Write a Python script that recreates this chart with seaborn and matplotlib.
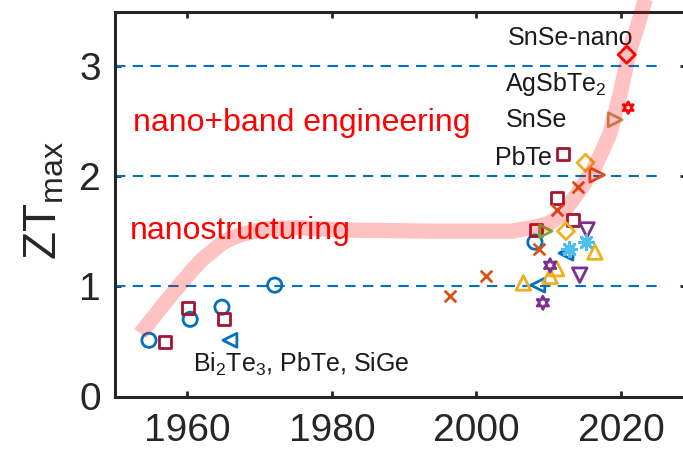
import matplotlib
matplotlib.use("Agg")
import matplotlib.pyplot as plt
import seaborn as sns
import pandas as pd

# ---------------- data ----------------
blue_circle_year = [1954.7, 1960.4, 1964.8, 1972.1, 2008.1]
blue_circle_zt = [0.51, 0.70, 0.81, 1.01, 1.40]

square_year = [1956.9, 1960.1, 1965.1, 2008.2, 2011.2, 2012.0, 2013.3]
square_zt = [0.49, 0.80, 0.70, 1.51, 1.80, 2.20, 1.60]

blue_left_year = [1965.9, 2008.5, 2012.4]
blue_left_zt = [0.51, 1.01, 1.30]

orange_x_year = [1996.4, 2001.3, 2008.6, 2011.1, 2014.1]
orange_x_zt = [0.91, 1.09, 1.34, 1.69, 1.90]

orange_right_year = [2016.7]
orange_right_zt = [2.01]

yellow_tri_year = [2006.5, 2010.2, 2011.1, 2016.4]
yellow_tri_zt = [1.03, 1.09, 1.16, 1.31]

yellow_dia_year = [2012.4, 2015.1]
yellow_dia_zt = [1.50, 2.12]

purple_hex_year = [2009.2, 2010.2]
purple_hex_zt = [0.85, 1.19]

purple_down_year = [2014.3, 2015.3]
purple_down_zt = [1.10, 1.51]

cyan_ast_year = [2015.2, 2012.8]
cyan_ast_zt = [1.40, 1.34]

green_year = [2009.6]
green_zt = [1.50]

red_dia_year = [2020.8]
red_dia_zt = [3.10]

red_hex_year = [2021.0]
red_hex_zt = [2.62]

tan_tri_year = [2019.2]
tan_tri_zt = [2.51]

trend_year = [1953.5, 1955.2, 1956.9, 1959.2, 1960.6, 1962.0, 1964.8, 1966.0,
              1967.5, 1970.7, 1975.4, 1981.8, 1993.6, 2005.0, 2008.3, 2010.0,
              2011.5, 2013.3, 2014.8, 2016.1, 2017.3, 2018.5, 2019.9, 2021.2,
              2022.4, 2024.0]
trend_zt = [0.57, 0.71, 0.85, 1.03, 1.14, 1.24, 1.39, 1.43,
            1.47, 1.52, 1.53, 1.51, 1.50, 1.50, 1.54, 1.57,
            1.63, 1.78, 1.92, 2.05, 2.21, 2.39, 2.75, 3.14,
            3.38, 3.75]

level_zt = [1, 2, 3]
level_span = [1950, 2025]

x_ticks = [1960, 1980, 2000, 2020]
y_ticks = [0, 1, 2, 3]

# ---------------- style ----------------
sns.set_theme(style="ticks")
plt.rcParams["font.family"] = ["Liberation Sans", "DejaVu Sans"]
plt.rcParams["mathtext.fontset"] = "custom"
plt.rcParams["mathtext.rm"] = "Liberation Sans"
plt.rcParams["mathtext.it"] = "Liberation Sans"

BLUE = (0.0, 0.447, 0.741)
DRED = (0.635, 0.078, 0.184)
ORANGE = (0.85, 0.325, 0.098)
YELLOW = (0.929, 0.694, 0.125)
PURPLE = (0.494, 0.184, 0.556)
CYAN = (0.301, 0.745, 0.933)
GREEN = (0.466, 0.674, 0.188)
RED = (1.0, 0.0, 0.0)
TAN = (0.74, 0.6, 0.38)
AXC = (0.15, 0.15, 0.15)

fig = plt.figure(figsize=(6.83, 4.53), dpi=100)
ax = fig.add_axes([115 / 683, 1 - 396.5 / 453, 571 / 683, (396.5 - 11.7) / 453])

# dashed reference lines
ax.hlines(level_zt, level_span[0], level_span[1], colors=[BLUE], linestyles=(0, (5, 3.5)),
          linewidth=1.5, zorder=1)

HEX = (6, 1, 0)
groups = [
    (blue_circle_year, blue_circle_zt, "o", BLUE, 105),
    (square_year, square_zt, "s", DRED, 75),
    (blue_left_year, blue_left_zt, "<", BLUE, 100),
    (orange_right_year, orange_right_zt, ">", ORANGE, 110),
    (yellow_tri_year, yellow_tri_zt, "^", YELLOW, 110),
    (yellow_dia_year, yellow_dia_zt, "D", YELLOW, 75),
    (purple_hex_year, purple_hex_zt, HEX, PURPLE, 90),
    (purple_down_year, purple_down_zt, "v", PURPLE, 110),
    (green_year, green_zt, ">", GREEN, 80),
    (red_dia_year, red_dia_zt, "D", RED, 75),
    (red_hex_year, red_hex_zt, HEX, RED, 70),
    (tan_tri_year, tan_tri_zt, ">", TAN, 100),
]
for yrs, zts, mk, col, sz in groups:
    df = pd.DataFrame({"year": yrs, "zt": zts})
    sns.scatterplot(data=df, x="year", y="zt", ax=ax, marker=mk, s=sz,
                    facecolors="none", edgecolor=col, color=col, linewidth=2,
                    zorder=3, legend=False)

df = pd.DataFrame({"year": orange_x_year, "zt": orange_x_zt})
sns.scatterplot(data=df, x="year", y="zt", ax=ax, marker="x", s=70, color=ORANGE,
                linewidth=2, zorder=3, legend=False)
df = pd.DataFrame({"year": cyan_ast_year, "zt": cyan_ast_zt})
sns.scatterplot(data=df, x="year", y="zt", ax=ax, marker=(8, 2, 0), s=110, color=CYAN,
                linewidth=2, zorder=3, legend=False)

# trend band
df = pd.DataFrame({"year": trend_year, "zt": trend_zt})
sns.lineplot(data=df, x="year", y="zt", ax=ax, color=RED, alpha=0.24, linewidth=11,
             sort=False, zorder=4, solid_capstyle="butt", clip_on=False)

# annotations
ax.text(1952.5, 2.41, "nano+band engineering", color=RED, fontsize=23, ha="left", va="baseline")
ax.text(1952.1, 1.43, "nanostructuring", color=RED, fontsize=23, ha="left", va="baseline")
ax.text(2004.4, 3.19, "SnSe-nano", color="k", fontsize=18, ha="left", va="baseline")
ax.text(2003.9, 2.775, "AgSbTe$_{2}$", color="k", fontsize=18, ha="left", va="baseline")
ax.text(2004.1, 2.445, "SnSe", color="k", fontsize=18, ha="left", va="baseline")
ax.text(2002.6, 2.10, "PbTe", color="k", fontsize=18, ha="left", va="baseline")
ax.text(1960.8, 0.225, "Bi$_{2}$Te$_{3}$, PbTe, SiGe", color="k", fontsize=18,
        ha="left", va="baseline")

# axes
ax.set_xlim(1950, 2029)
ax.set_ylim(0, 3.49)
ax.set_xticks(x_ticks)
ax.set_yticks(y_ticks)
ax.set_xlabel("")
ax.set_ylabel("ZT$_{\\mathrm{max}}$", fontsize=33, color=AXC)
ax.yaxis.set_label_coords(-0.085, 0.51)
ax.tick_params(direction="in", length=4, width=2, labelsize=28, colors=AXC,
               top=True, right=True, pad=10)
ax.tick_params(axis="x", pad=12)
for sp in ax.spines.values():
    sp.set_visible(True)
    sp.set_linewidth(2.2)
    sp.set_color(AXC)

fig.savefig("out.png", dpi=100)
